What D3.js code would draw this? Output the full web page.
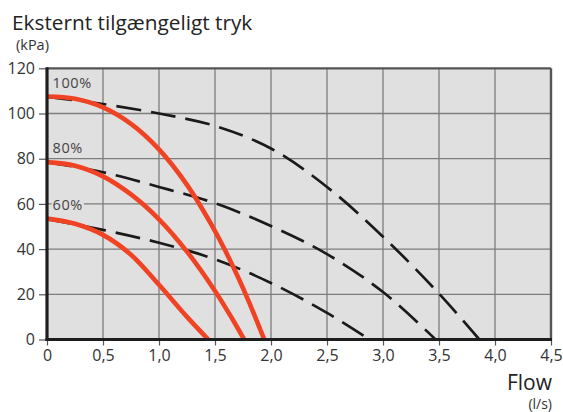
<!DOCTYPE html>
<html>
<head>
<meta charset="utf-8">
<script src="https://cdn.jsdelivr.net/npm/d3@7"></script>
<style>
  html, body { margin: 0; padding: 0; background: #fff; }
  svg { display: block; font-family: "Open Sans", sans-serif; }
</style>
</head>
<body>
<svg id="chart" width="563" height="412"></svg>
<script>
// Pump curves: available external pressure (kPa) against flow (l/s)
const xTicks = [0, 0.5, 1.0, 1.5, 2.0, 2.5, 3.0, 3.5, 4.0, 4.5];
const xTickLabels = ["0", "0,5", "1,0", "1,5", "2,0", "2,5", "3,0", "3,5", "4,0", "4,5"];
const yTicks = [0, 20, 40, 60, 80, 100, 120];

const speedLabels = ["100%", "80%", "60%"];

// Solid curves (one per pump speed): [flow, pressure]
const solid100 = [[0, 107.5], [0.25, 106.5], [0.5, 102.7], [0.75, 95.4], [1.0, 84.1], [1.25, 68.4], [1.5, 48], [1.6, 38.5], [1.7, 28.2], [1.8, 17], [1.94, 0]];
const solid80 = [[0, 78.5], [0.25, 76.9], [0.5, 72.2], [0.75, 64.2], [1.0, 53.2], [1.25, 38.9], [1.5, 21.5], [1.65, 9.5], [1.76, 0]];
const solid60 = [[0, 53.5], [0.25, 51.2], [0.5, 46.3], [0.75, 37.5], [1.0, 24.2], [1.25, 10], [1.44, 0]];

// Dashed curves (one per pump speed): [flow, pressure]
const dashed100 = [[0, 107.3], [0.25, 105.9], [0.5, 104.2], [1.0, 100], [1.5, 94.5], [2.0, 84.5], [2.5, 67.5], [3.0, 45.5], [3.5, 20.3], [3.86, 0]];
const dashed80 = [[0, 78.5], [0.5, 74], [1.0, 67.5], [1.5, 60.3], [2.0, 50.2], [2.5, 37.8], [3.0, 21], [3.47, 0]];
const dashed60 = [[0, 53.3], [0.5, 48.5], [1.0, 42.8], [1.5, 35.5], [2.0, 25], [2.5, 11.8], [2.88, 0]];

const solidSeries = [solid100, solid80, solid60];
const dashedSeries = [dashed100, dashed80, dashed60];

const svg = d3.select("#chart");
const plotLeft = 47, plotRight = 551, plotTop = 68.3, plotBottom = 339.5;

const x = d3.scaleLinear().domain([0, 4.5]).range([plotLeft, plotRight]);
const y = d3.scaleLinear().domain([0, 120]).range([plotBottom, plotTop]);

// plot background
svg.append("rect")
  .attr("x", plotLeft).attr("y", plotTop)
  .attr("width", plotRight - plotLeft).attr("height", plotBottom - plotTop)
  .attr("fill", "#e0e0e0");

// grid
const grid = svg.append("g").attr("stroke", "#7d7d7d").attr("stroke-width", 1.3);
grid.selectAll("line.v").data(xTicks.slice(1, -1)).join("line")
  .attr("class", "v")
  .attr("x1", d => x(d)).attr("x2", d => x(d))
  .attr("y1", plotTop).attr("y2", plotBottom);
grid.selectAll("line.h").data(yTicks.slice(1, -1)).join("line")
  .attr("class", "h")
  .attr("x1", plotLeft).attr("x2", plotRight)
  .attr("y1", d => y(d)).attr("y2", d => y(d));

svg.append("clipPath").attr("id", "plotClip")
  .append("rect").attr("x", plotLeft).attr("y", plotTop)
  .attr("width", plotRight - plotLeft).attr("height", plotBottom - plotTop);

const line = d3.line()
  .x(d => x(d[0])).y(d => y(d[1]))
  .curve(d3.curveCatmullRom.alpha(0.5));

const curves = svg.append("g").attr("clip-path", "url(#plotClip)");

curves.selectAll("path.dashed").data(dashedSeries).join("path")
  .attr("class", "dashed")
  .attr("d", line)
  .attr("fill", "none")
  .attr("stroke", "#1a1a1a")
  .attr("stroke-width", 2.7)
  .attr("stroke-dasharray", "25,10");

curves.selectAll("path.solid").data(solidSeries).join("path")
  .attr("class", "solid")
  .attr("d", line)
  .attr("fill", "none")
  .attr("stroke", "#f04324")
  .attr("stroke-width", 4.6);

// speed labels with a backing box that hides the grid beneath
const labelGroup = svg.append("g");
speedLabels.forEach((txt, i) => {
  const g = labelGroup.append("g");
  const t = g.append("text")
    .attr("x", 52.5)
    .attr("y", y(solidSeries[i][0][1]) - 9)
    .attr("font-size", 14.5)
    .attr("letter-spacing", 0.6)
    .attr("fill", "#444")
    .text(txt);
  const bb = t.node().getBBox();
  g.insert("rect", "text")
    .attr("x", bb.x - 1).attr("y", bb.y)
    .attr("width", bb.width + 2).attr("height", bb.height)
    .attr("fill", "#e0e0e0");
});

// frame: thin top/right, heavy left/bottom axes
svg.append("line").attr("x1", plotLeft).attr("x2", plotRight).attr("y1", plotTop).attr("y2", plotTop)
  .attr("stroke", "#555").attr("stroke-width", 2.2);
svg.append("line").attr("x1", plotRight).attr("x2", plotRight).attr("y1", plotTop).attr("y2", plotBottom)
  .attr("stroke", "#555").attr("stroke-width", 2.4);

const yAxis = svg.append("g")
  .attr("transform", `translate(${plotLeft},0)`)
  .call(d3.axisLeft(y).tickValues(yTicks).tickSize(8).tickPadding(4).tickFormat(d3.format("d")));
const xAxis = svg.append("g")
  .attr("transform", `translate(0,${plotBottom})`)
  .call(d3.axisBottom(x).tickValues(xTicks).tickSize(6).tickPadding(4).tickFormat((d, i) => xTickLabels[i]));

[yAxis, xAxis].forEach(a => {
  a.select(".domain").remove();
  a.selectAll(".tick line").attr("stroke", "#555").attr("stroke-width", 1.2);
  a.selectAll(".tick text").attr("font-size", 16).attr("fill", "#333")
    .attr("font-family", "Open Sans, sans-serif");
});

svg.append("line").attr("x1", plotLeft).attr("x2", plotLeft).attr("y1", plotTop - 1).attr("y2", plotBottom + 1.5)
  .attr("stroke", "#1e1e1e").attr("stroke-width", 3.2);
svg.append("line").attr("x1", plotLeft - 1.5).attr("x2", plotRight + 1).attr("y1", plotBottom).attr("y2", plotBottom)
  .attr("stroke", "#1e1e1e").attr("stroke-width", 3.2);

// titles
svg.append("text").attr("x", 12).attr("y", 30)
  .attr("font-size", 20.8).attr("fill", "#222")
  .text("Eksternt tilgængeligt tryk");
svg.append("text").attr("x", 16).attr("y", 50)
  .attr("font-size", 14.5).attr("fill", "#333")
  .text("(kPa)");
svg.append("text").attr("x", 552).attr("y", 390).attr("text-anchor", "end")
  .attr("font-size", 21).attr("fill", "#222")
  .text("Flow");
svg.append("text").attr("x", 552).attr("y", 409).attr("text-anchor", "end")
  .attr("font-size", 14).attr("fill", "#333")
  .text("(l/s)");
</script>
</body>
</html>
